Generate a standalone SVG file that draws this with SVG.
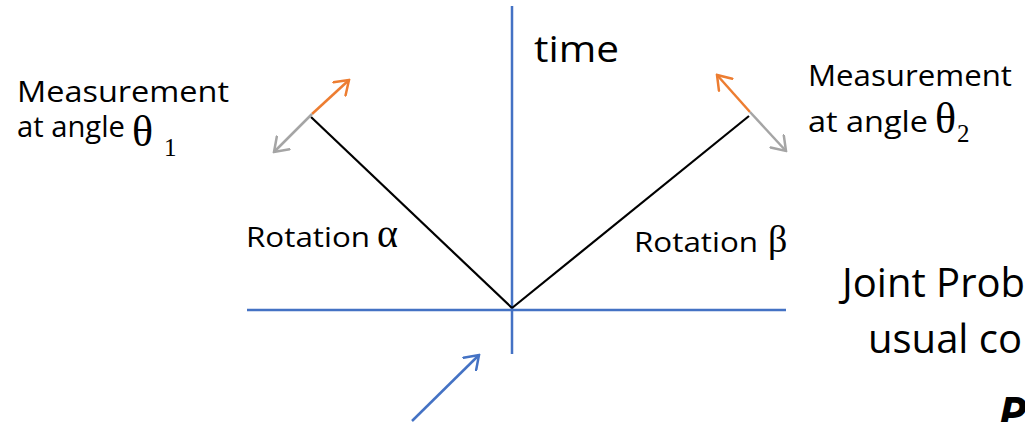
<svg xmlns="http://www.w3.org/2000/svg" width="1025" height="422" viewBox="0 0 1025 422">
  <style>
    .lbl { font-family: "Open Sans", "Liberation Sans", sans-serif; fill: #000; }
    .gr { font-family: "Liberation Serif", "DejaVu Serif", serif; fill: #000; }
    .axis { stroke: #4472C4; stroke-width: 2.5; fill: none; }
    .arm { stroke: #000; stroke-width: 2.2; fill: none; }
    .or { stroke: #ED7D31; stroke-width: 2.5; fill: none; }
    .gy { stroke: #A5A5A5; stroke-width: 2.5; fill: none; }
  </style>
  <defs>
    <marker id="mOr" viewBox="0 0 16 20" refX="14" refY="10" markerWidth="16" markerHeight="20" markerUnits="userSpaceOnUse" orient="auto">
      <path d="M1,1 L14,10 L1,19" fill="none" stroke="#ED7D31" stroke-width="2.5" stroke-linecap="round"/>
    </marker>
    <marker id="mGy" viewBox="0 0 16 20" refX="14" refY="10" markerWidth="16" markerHeight="20" markerUnits="userSpaceOnUse" orient="auto">
      <path d="M1,1 L14,10 L1,19" fill="none" stroke="#A5A5A5" stroke-width="2.5" stroke-linecap="round"/>
    </marker>
    <marker id="mBl" viewBox="0 0 16 20" refX="14" refY="10" markerWidth="16" markerHeight="20" markerUnits="userSpaceOnUse" orient="auto">
      <path d="M1,1 L14,10 L1,19" fill="none" stroke="#4472C4" stroke-width="2.5" stroke-linecap="round"/>
    </marker>
  </defs>

  <g id="connectors">
    <line id="time-axis" class="axis" x1="512" y1="6" x2="512" y2="354"/>
    <line id="space-axis" class="axis" x1="247" y1="310" x2="786" y2="310"/>
    <line id="arm-left" class="arm" x1="512" y1="308" x2="311" y2="117"/>
    <line id="arm-right" class="arm" x1="512" y1="308" x2="749" y2="116"/>
    <line id="left-orange" class="or" x1="312" y1="114" x2="349" y2="80" marker-end="url(#mOr)"/>
    <line id="left-grey" class="gy" x1="312" y1="114" x2="274" y2="152" marker-end="url(#mGy)"/>
    <line id="right-orange" class="or" x1="750" y1="112" x2="717" y2="75" marker-end="url(#mOr)"/>
    <line id="right-grey" class="gy" x1="750" y1="112" x2="786" y2="151" marker-end="url(#mGy)"/>
    <line id="source-arrow" class="axis" x1="412" y1="421" x2="479" y2="355" marker-end="url(#mBl)"/>
  </g>

  <g id="label-time">
    <text class="lbl" x="534" y="62" font-size="37" textLength="85" lengthAdjust="spacingAndGlyphs">time</text>
  </g>

  <g id="label-meas-left">
    <text class="lbl" font-size="29"><tspan x="17" y="102" textLength="212" lengthAdjust="spacingAndGlyphs">Measurement</tspan><tspan x="17" y="137" textLength="108" lengthAdjust="spacingAndGlyphs">at angle</tspan></text>
    <text class="gr" x="132" y="146" font-size="44">θ</text>
    <text class="gr" x="164" y="156" font-size="25">1</text>
  </g>

  <g id="label-meas-right">
    <text class="lbl" font-size="29"><tspan x="808" y="86" textLength="204" lengthAdjust="spacingAndGlyphs">Measurement</tspan><tspan x="808" y="132" textLength="120" lengthAdjust="spacingAndGlyphs">at angle</tspan></text>
    <text class="gr" x="935" y="133" font-size="44">θ</text>
    <text class="gr" x="957" y="142" font-size="25">2</text>
  </g>

  <g id="label-rot-alpha">
    <text class="lbl" x="246" y="247" font-size="28" textLength="124" lengthAdjust="spacingAndGlyphs">Rotation</text>
    <text class="gr" x="377" y="247" font-size="40">α</text>
  </g>

  <g id="label-rot-beta">
    <text class="lbl" x="634" y="252" font-size="28" textLength="124" lengthAdjust="spacingAndGlyphs">Rotation</text>
    <text class="gr" x="768" y="252" font-size="38">β</text>
  </g>

  <g id="label-joint">
    <text class="lbl" x="842" y="297" font-size="40">Joint Prob</text>
    <text class="lbl" x="868" y="353" font-size="40">usual co</text>
    <text class="lbl" x="998" y="430" font-size="46" font-weight="bold" font-style="italic">P</text>
  </g>
</svg>
